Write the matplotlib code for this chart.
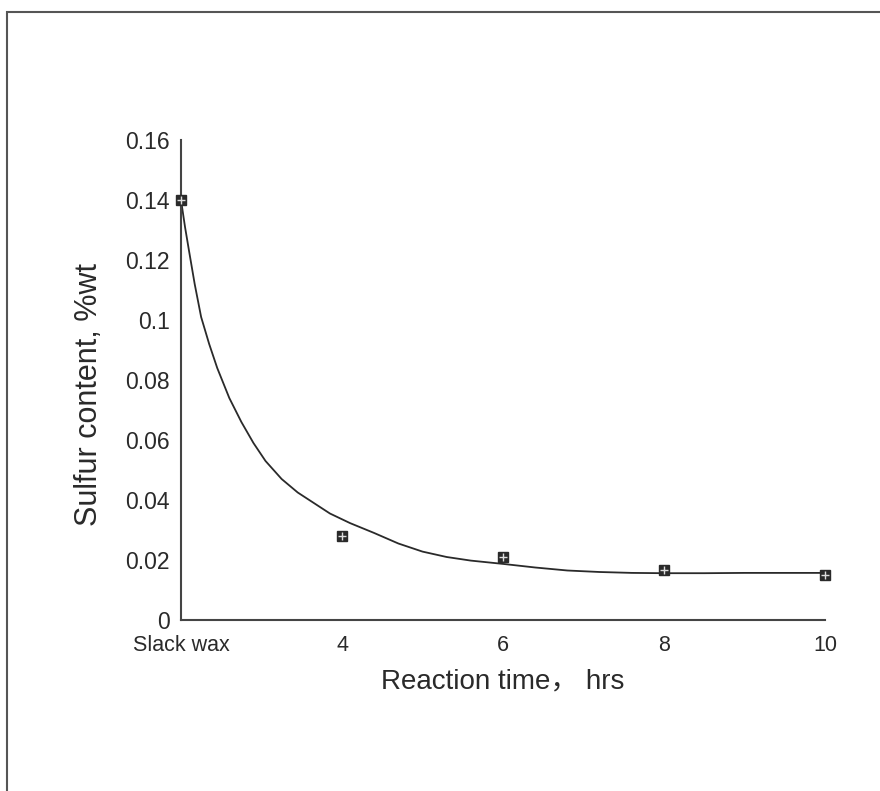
import matplotlib.pyplot as plt
from matplotlib.patches import Rectangle

# measured points
time_hrs = [2, 4, 6, 8, 10]
sulfur = [0.140, 0.028, 0.021, 0.0167, 0.015]

# fitted curve
curve_x = [2.00, 2.05, 2.10, 2.17, 2.25, 2.35, 2.45, 2.60, 2.75, 2.90, 3.05, 3.25,
           3.45, 3.65, 3.85, 4.10, 4.40, 4.70, 5.00, 5.30, 5.60, 6.00, 6.40, 6.80,
           7.20, 7.60, 8.00, 8.50, 9.00, 9.50, 10.0]
curve_y = [0.140, 0.131, 0.123, 0.112, 0.101, 0.092, 0.084, 0.074, 0.066, 0.059, 0.053, 0.047,
           0.0425, 0.039, 0.0355, 0.0323, 0.029, 0.0255, 0.0228, 0.021, 0.0198, 0.0187, 0.0175, 0.0165,
           0.0160, 0.0157, 0.0156, 0.0156, 0.0157, 0.0157, 0.0157]

xtick_pos = [2, 4, 6, 8, 10]
xtick_labels = ['Slack wax', '4', '6', '8', '10']
ytick_pos = [0, 0.02, 0.04, 0.06, 0.08, 0.1, 0.12, 0.14, 0.16]
ytick_labels = ['0', '0.02', '0.04', '0.06', '0.08', '0.1', '0.12', '0.14', '0.16']

plt.rcParams['font.family'] = ['Liberation Sans', 'Noto Sans CJK SC', 'DejaVu Sans']
ink = '#2a2a2a'

fig = plt.figure(figsize=(8.8, 7.91), dpi=100)
ax = fig.add_axes([181 / 880, 1 - 620 / 791, (825 - 181) / 880, (620 - 140) / 791])

ax.plot(curve_x, curve_y, color=ink, lw=1.3)
ax.plot(time_hrs, sulfur, 's', ms=7, color=ink, zorder=3, clip_on=False)
ax.plot(time_hrs, sulfur, '+', ms=6, mew=1, color='#dddddd', zorder=4, clip_on=False)

ax.set_xlim(2, 10)
ax.set_ylim(0, 0.16)
ax.set_xticks(xtick_pos)
ax.set_xticklabels(xtick_labels)
ax.set_yticks(ytick_pos)
ax.set_yticklabels(ytick_labels)
ax.tick_params(length=0, labelcolor=ink)
ax.tick_params(axis='x', pad=11, labelsize=15.5)
ax.tick_params(axis='y', pad=8, labelsize=16.5)

for s in ['top', 'right']:
    ax.spines[s].set_visible(False)
for s in ['left', 'bottom']:
    ax.spines[s].set_color('#444444')
    ax.spines[s].set_linewidth(1.5)

ax.set_xlabel('Reaction time， hrs', fontsize=20, color=ink, labelpad=9)
ax.set_ylabel('Sulfur content, %wt', fontsize=22, color=ink)
ax.yaxis.set_label_coords(-0.12, 0.47)

# outer frame of the scanned page
fig.patches.append(Rectangle((7 / 880, -0.05), 1.1, 1 - 12 / 791 + 0.05,
                             transform=fig.transFigure, fill=False,
                             edgecolor='#555555', lw=1.5))

fig.savefig('out.png', dpi=100)
